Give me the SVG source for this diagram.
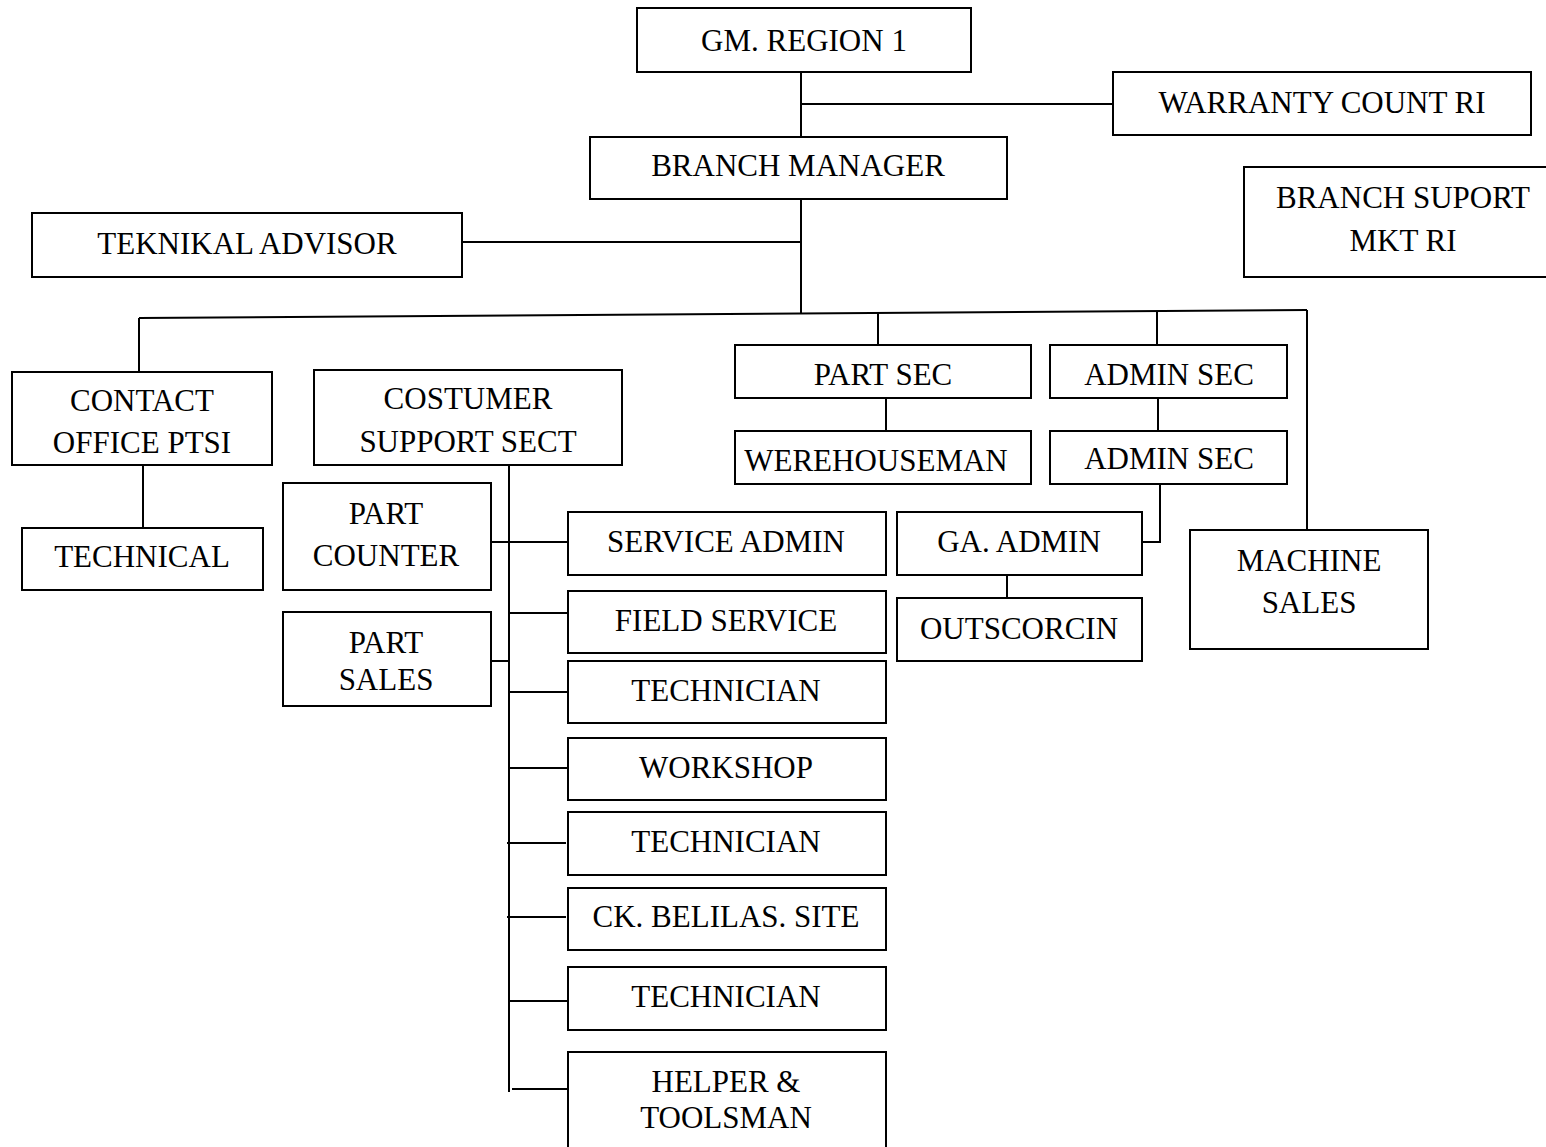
<svg xmlns="http://www.w3.org/2000/svg" width="1546" height="1147" viewBox="0 0 1546 1147">
<style>
rect{fill:#fff;stroke:#000;stroke-width:2}
line,polyline{stroke:#000;stroke-width:2;fill:none}
text{font-family:"Liberation Serif","Times New Roman",serif;font-size:31px;fill:#000;text-anchor:middle}
</style>
<rect x="0" y="0" width="1546" height="1147" style="stroke:none"/>
<g id="connectors">
<line x1="801" y1="72" x2="801" y2="137"/>
<line x1="801" y1="104" x2="1113" y2="104"/>
<line x1="801" y1="199" x2="801" y2="313"/>
<line x1="462" y1="242" x2="801" y2="242"/>
<line x1="139" y1="318" x2="1307" y2="310"/>
<line x1="139" y1="318" x2="139" y2="372"/>
<line x1="878" y1="312" x2="878" y2="345"/>
<line x1="1157" y1="311" x2="1157" y2="345"/>
<line x1="1307" y1="310" x2="1307" y2="530"/>
<line x1="886" y1="398" x2="886" y2="431"/>
<line x1="1158" y1="398" x2="1158" y2="431"/>
<polyline points="1160,484 1160,542 1142,542"/>
<line x1="1007" y1="575" x2="1007" y2="598"/>
<line x1="143" y1="465" x2="143" y2="528"/>
<line x1="509" y1="465" x2="509" y2="1092"/>
<line x1="491" y1="542" x2="568" y2="542"/>
<line x1="509" y1="613" x2="568" y2="613"/>
<line x1="491" y1="661" x2="509" y2="661"/>
<line x1="509" y1="692" x2="568" y2="692"/>
<line x1="509" y1="768" x2="568" y2="768"/>
<line x1="507" y1="843" x2="566" y2="843"/>
<line x1="507" y1="917" x2="566" y2="917"/>
<line x1="509" y1="1001" x2="568" y2="1001"/>
<line x1="512" y1="1089" x2="570" y2="1089"/>
</g>
<g id="gm"><rect x="637" y="8" width="334" height="64"/><text x="804" y="51">GM. REGION 1</text></g>
<g id="warranty"><rect x="1113" y="72" width="418" height="63"/><text x="1322" y="113">WARRANTY COUNT RI</text></g>
<g id="branch-manager"><rect x="590" y="137" width="417" height="62"/><text x="798" y="176">BRANCH MANAGER</text></g>
<g id="branch-support"><rect x="1244" y="167" width="310" height="110"/><text x="1403" y="208">BRANCH SUPORT</text><text x="1403" y="251">MKT RI</text></g>
<g id="teknikal"><rect x="32" y="213" width="430" height="64"/><text x="247" y="254">TEKNIKAL ADVISOR</text></g>
<g id="contact"><rect x="12" y="372" width="260" height="93"/><text x="142" y="411">CONTACT</text><text x="142" y="453">OFFICE PTSI</text></g>
<g id="costumer"><rect x="314" y="370" width="308" height="95"/><text x="468" y="409">COSTUMER</text><text x="468" y="452">SUPPORT SECT</text></g>
<g id="part-sec"><rect x="735" y="345" width="296" height="53"/><text x="883" y="385">PART SEC</text></g>
<g id="admin-sec-1"><rect x="1050" y="345" width="237" height="53"/><text x="1169" y="385">ADMIN SEC</text></g>
<g id="werehouseman"><rect x="735" y="431" width="296" height="53"/><text x="876" y="471">WEREHOUSEMAN</text></g>
<g id="admin-sec-2"><rect x="1050" y="431" width="237" height="53"/><text x="1169" y="469">ADMIN SEC</text></g>
<g id="ga-admin"><rect x="897" y="512" width="245" height="63"/><text x="1019" y="552">GA. ADMIN</text></g>
<g id="outscorcin"><rect x="897" y="598" width="245" height="63"/><text x="1019" y="639">OUTSCORCIN</text></g>
<g id="machine-sales"><rect x="1190" y="530" width="238" height="119"/><text x="1309" y="571">MACHINE</text><text x="1309" y="613">SALES</text></g>
<g id="technical"><rect x="22" y="528" width="241" height="62"/><text x="142" y="567">TECHNICAL</text></g>
<g id="part-counter"><rect x="283" y="483" width="208" height="107"/><text x="386" y="524">PART</text><text x="386" y="566">COUNTER</text></g>
<g id="part-sales"><rect x="283" y="612" width="208" height="94"/><text x="386" y="653">PART</text><text x="386" y="690">SALES</text></g>
<g id="service-admin"><rect x="568" y="512" width="318" height="63"/><text x="726" y="552">SERVICE ADMIN</text></g>
<g id="field-service"><rect x="568" y="591" width="318" height="62"/><text x="726" y="631">FIELD SERVICE</text></g>
<g id="technician-1"><rect x="568" y="661" width="318" height="62"/><text x="726" y="701">TECHNICIAN</text></g>
<g id="workshop"><rect x="568" y="738" width="318" height="62"/><text x="726" y="778">WORKSHOP</text></g>
<g id="technician-2"><rect x="568" y="812" width="318" height="63"/><text x="726" y="852">TECHNICIAN</text></g>
<g id="ck-belilas"><rect x="568" y="888" width="318" height="62"/><text x="726" y="927">CK. BELILAS. SITE</text></g>
<g id="technician-3"><rect x="568" y="967" width="318" height="63"/><text x="726" y="1007">TECHNICIAN</text></g>
<g id="helper"><rect x="568" y="1052" width="318" height="110"/><text x="726" y="1092">HELPER &amp;</text><text x="726" y="1128">TOOLSMAN</text></g>
</svg>
